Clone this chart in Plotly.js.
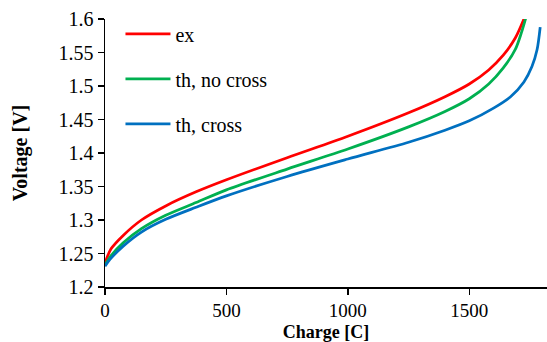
<!DOCTYPE html>
<html>
<head>
<meta charset="utf-8">
<script src="https://cdn.plot.ly/plotly-3.0.1.min.js"></script>
<style>
html,body{margin:0;padding:0;background:#fff;}
#chart{width:547px;height:342px;}
</style>
</head>
<body>
<div id="chart"></div>
<script>
// Charge [C] and voltage [V]
const exCharge = [0, 25, 75, 150, 250, 375, 500, 750, 1000, 1250, 1400, 1500, 1580, 1640, 1690, 1725];
const exVoltage = [1.236, 1.257, 1.277, 1.300, 1.321, 1.342, 1.360, 1.393, 1.425, 1.460, 1.484, 1.503, 1.524, 1.546, 1.572, 1.600];

const thNoCrossCharge = [0, 25, 75, 150, 250, 375, 500, 750, 1000, 1250, 1400, 1500, 1580, 1640, 1690, 1715, 1733];
const thNoCrossVoltage = [1.233, 1.247, 1.266, 1.287, 1.307, 1.326, 1.345, 1.376, 1.406, 1.439, 1.462, 1.481, 1.503, 1.527, 1.555, 1.580, 1.602];

const thCrossCharge = [0, 25, 75, 150, 250, 375, 500, 750, 1000, 1250, 1400, 1500, 1600, 1670, 1725, 1758, 1779, 1792];
const thCrossVoltage = [1.231, 1.243, 1.261, 1.282, 1.301, 1.319, 1.336, 1.365, 1.391, 1.416, 1.434, 1.448, 1.467, 1.484, 1.506, 1.529, 1.554, 1.588];

const seriesNames = ["ex", "th, no cross", "th, cross"];
const seriesColors = ["#FF0000", "#00B050", "#0070C0"];

const font = "'Liberation Serif', 'Times New Roman', serif";
const xs = [exCharge, thNoCrossCharge, thCrossCharge];
const ys = [exVoltage, thNoCrossVoltage, thCrossVoltage];

const traces = seriesNames.map((n, i) => ({
  x: xs[i], y: ys[i], name: n, type: "scatter", mode: "lines",
  legendgroup: "g" + i,
  line: {color: seriesColors[i], width: 2.75, shape: "spline", smoothing: 0.8}
}));

const layout = {
  width: 547, height: 342,
  margin: {l: 105, r: 0, t: 19, b: 55},
  paper_bgcolor: "#fff", plot_bgcolor: "#fff",
  font: {family: font, size: 20, color: "#000"},
  showlegend: true,
  legend: {x: 0.035, y: 1.017, xanchor: "left", yanchor: "top", bgcolor: "rgba(0,0,0,0)",
           itemwidth: 45,
           font: {family: font, size: 20, color: "#000"}, tracegroupgap: 16},
  xaxis: {
    range: [0, 1820], tickvals: [0, 500, 1000, 1500], ticktext: ["0", "500", "1000", "1500"],
    showgrid: false, zeroline: false, showline: true, linecolor: "#000", linewidth: 1.5,
    ticks: "outside", ticklen: 6, tickwidth: 1.5, tickcolor: "#000",
    tickfont: {family: font, size: 19, color: "#000"},
    title: {text: "<b>Charge [C]</b>", font: {family: font, size: 18, color: "#000"}, standoff: 6}
  },
  yaxis: {
    range: [1.2, 1.6], dtick: 0.05, tick0: 1.2,
    showgrid: false, zeroline: false, showline: true, linecolor: "#000", linewidth: 1.5,
    ticks: "outside", ticklen: 6, tickwidth: 1.5, tickcolor: "#000",
    tickfont: {family: font, size: 20, color: "#000"},
    title: {text: "<b>Voltage [V]</b>", font: {family: font, size: 20, color: "#000"}, standoff: 25}
  }
};

Plotly.newPlot("chart", traces, layout, {displayModeBar: false, staticPlot: true});
</script>
</body>
</html>
